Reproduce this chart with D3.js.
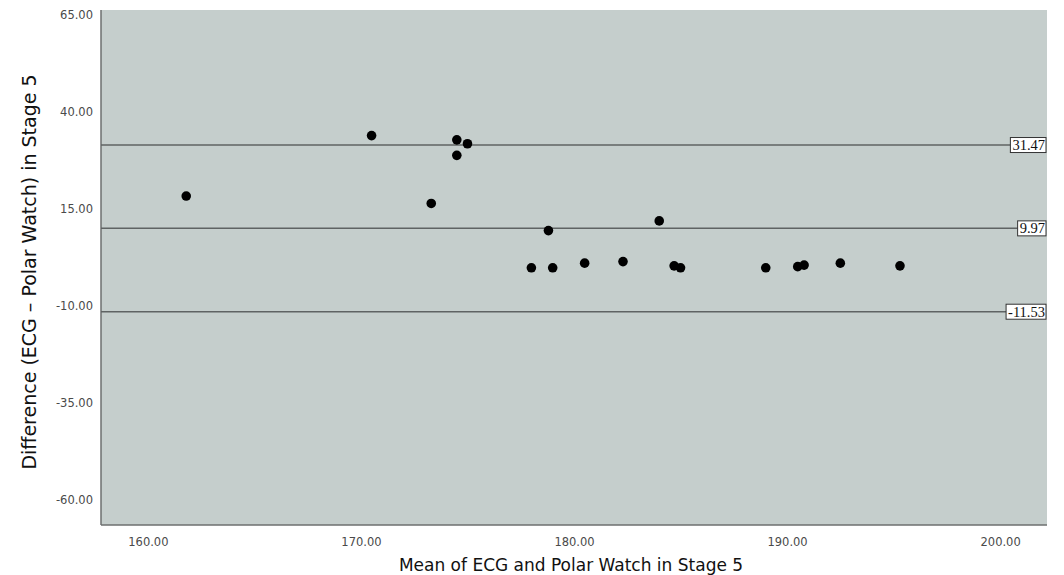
<!DOCTYPE html>
<html>
<head>
<meta charset="utf-8">
<script src="https://cdn.jsdelivr.net/npm/d3@7"></script>
<style>
  body { margin: 0; background: #fff; }
  svg { display: block; }
</style>
</head>
<body>
<script>
// mean of the two devices (x) and their difference (y)
var meanHR = [161.8, 170.5, 174.5, 175.0, 174.5, 173.3, 178.8, 178.0, 179.0, 180.5,
              182.3, 184.0, 184.7, 185.0, 189.0, 190.5, 190.8, 192.5, 195.3];
var diffHR = [18.3, 33.9, 32.8, 31.8, 28.8, 16.4, 9.4, -0.2, -0.2, 1.0,
              1.4, 11.9, 0.3, -0.2, -0.2, 0.1, 0.5, 1.0, 0.3];
var refLines = [31.47, 9.97, -11.53];
var xTicks = [160, 170, 180, 190, 200];
var yTicks = [65, 40, 15, -10, -35, -60];

var width = 1064, height = 575;
var margin = {top: 10, right: 17, bottom: 50, left: 101};

var svg = d3.select("body").append("svg")
    .attr("width", width)
    .attr("height", height);

var x = d3.scaleLinear()
    .domain([157.8, 202.2])
    .range([margin.left, width - margin.right]);

var y = d3.scaleLinear()
    .domain([66.3, -66.55])
    .range([margin.top, height - margin.bottom]);

// plot background
svg.append("rect")
    .attr("x", margin.left)
    .attr("y", margin.top)
    .attr("width", width - margin.left - margin.right)
    .attr("height", height - margin.top - margin.bottom)
    .attr("fill", "#c5cecc");

// left and bottom axis lines
svg.append("line")
    .attr("x1", margin.left).attr("x2", margin.left)
    .attr("y1", margin.top).attr("y2", height - margin.bottom)
    .attr("stroke", "#6d6f6f").attr("stroke-width", 1.5);
svg.append("line")
    .attr("x1", margin.left).attr("x2", width - margin.right)
    .attr("y1", height - margin.bottom).attr("y2", height - margin.bottom)
    .attr("stroke", "#6d6f6f").attr("stroke-width", 1.5);

// plain hyphen for negatives, like the original
var fmt = function(d) { return d.toFixed(2); };

var xAxis = svg.append("g")
    .attr("transform", "translate(0," + (height - margin.bottom) + ")")
    .call(d3.axisBottom(x).tickValues(xTicks).tickFormat(fmt).tickSize(0).tickPadding(13));
var yAxis = svg.append("g")
    .attr("transform", "translate(" + margin.left + ",0)")
    .call(d3.axisLeft(y).tickValues(yTicks).tickFormat(fmt).tickSize(0).tickPadding(8));

[xAxis, yAxis].forEach(function(g) {
    g.select(".domain").remove();
    g.selectAll("text")
        .attr("font-family", "DejaVu Sans")
        .attr("font-size", 11.5)
        .attr("fill", "#4a4a4a");
});

// reference lines with value boxes
var ref = svg.selectAll(".ref")
    .data(refLines)
    .enter().append("g")
    .attr("class", "ref");

ref.append("line")
    .attr("x1", margin.left)
    .attr("x2", width - margin.right - 2)
    .attr("y1", function(d) { return y(d); })
    .attr("y2", function(d) { return y(d); })
    .attr("stroke", "#5f6363")
    .attr("stroke-width", 1.5);

ref.each(function(d) {
    var g = d3.select(this);
    var t = g.append("text")
        .attr("x", width - margin.right - 2)
        .attr("y", y(d) + 5)
        .attr("text-anchor", "end")
        .attr("font-family", "Liberation Serif")
        .attr("font-size", 14.5)
        .attr("fill", "#111")
        .text(fmt(d));
    var bb = t.node().getBBox();
    g.insert("rect", "text")
        .attr("x", bb.x - 2)
        .attr("y", y(d) - 7.5)
        .attr("width", bb.width + 3)
        .attr("height", 15)
        .attr("fill", "#fff")
        .attr("stroke", "#333")
        .attr("stroke-width", 1);
});

// points
svg.selectAll(".pt")
    .data(meanHR)
    .enter().append("circle")
    .attr("class", "pt")
    .attr("cx", function(d) { return x(d); })
    .attr("cy", function(d, i) { return y(diffHR[i]); })
    .attr("r", 4.8)
    .attr("fill", "#000");

// axis titles
svg.append("text")
    .attr("x", 571)
    .attr("y", 571)
    .attr("text-anchor", "middle")
    .attr("font-family", "DejaVu Sans")
    .attr("font-size", 17)
    .attr("fill", "#111")
    .text("Mean of ECG and Polar Watch in Stage 5");

svg.append("text")
    .attr("transform", "translate(36,272) rotate(-90)")
    .attr("text-anchor", "middle")
    .attr("font-family", "DejaVu Sans")
    .attr("font-size", 19)
    .attr("fill", "#111")
    .text("Difference (ECG \u2013 Polar Watch) in Stage 5");
</script>
</body>
</html>
